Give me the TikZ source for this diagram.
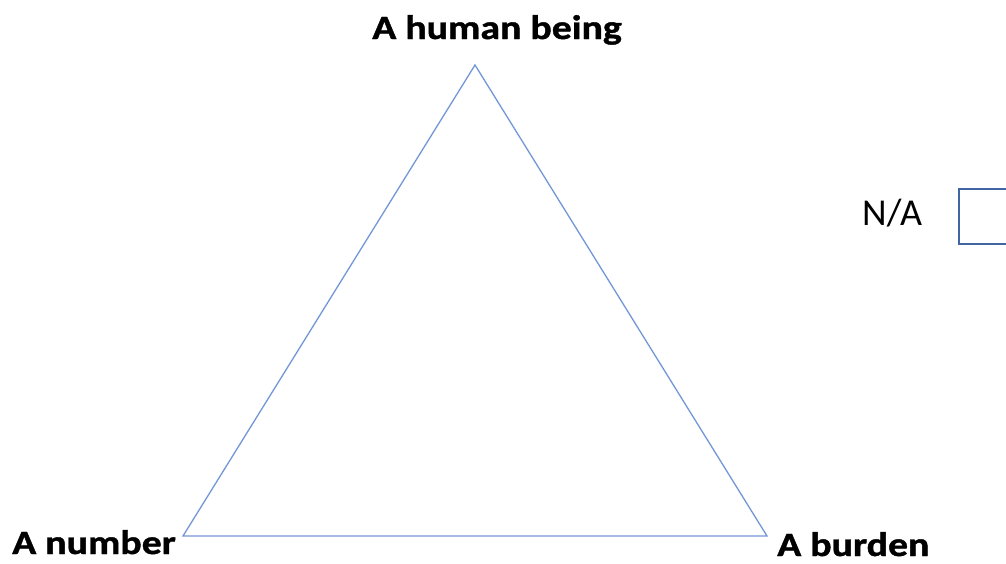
\documentclass[tikz,border=0pt]{standalone}
\usepackage{fontspec}
\usepackage{xcolor}
\usepackage{tikz}
\usetikzlibrary{positioning}
\newfontfamily\lblfont[FakeStretch=1.17, BoldFeatures={FakeBold=1.2}]{Carlito}
\newfontfamily\nafont{Carlito}
\definecolor{triline}{HTML}{7396D6}
\definecolor{boxline}{HTML}{4266A3}

\begin{document}
\begin{tikzpicture}[x=1pt, y=-1pt,
        corner/.style={font=\lblfont\fontsize{34}{38}\selectfont\bfseries, inner sep=0pt},
        side/.style={draw=triline, line width=1.3pt}]
    \useasboundingbox (0,0) rectangle (1006,563);
    \coordinate (top) at (475,65);
    \coordinate (left) at (183,536);
    \coordinate (right) at (767,536);
    \draw[side] (top) -- (left) -- (right) -- cycle;
    \node (human) [corner, anchor=base] at (497,39) {A human being};
    \node (number) [corner, anchor=base west] at (12,554) {A number};
    \node (burden) [corner, anchor=base west] at (777,556) {A burden};
    \node (na) [font=\nafont\fontsize{38}{40}\selectfont, inner sep=0pt, anchor=base west] at (862,225) {N/A};
    \node (nabox) [draw=boxline, line width=2pt, minimum width=60pt, minimum height=55pt, anchor=north west] at (958,188) {};
\end{tikzpicture}
\end{document}
